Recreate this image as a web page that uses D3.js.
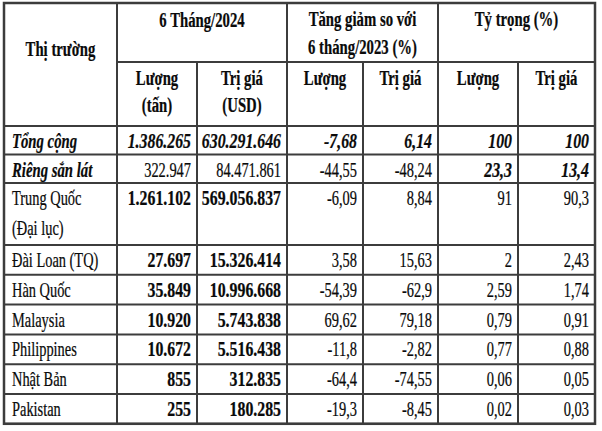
<!DOCTYPE html>
<html>
<head>
<meta charset="utf-8">
<script src="https://cdn.jsdelivr.net/npm/d3@7"></script>
<style>
  body { margin: 0; background: #fff; }
  text { font-family: "Liberation Serif", "Times New Roman", serif; fill: #0a0a0a; stroke: #0a0a0a; stroke-width: 0.25; }
</style>
</head>
<body>
<script>
// Xuat khau san: thi truong 6 thang/2024

const markets = ["Tổng cộng", "Riêng sắn lát", "Trung Quốc\n(Đại lục)", "Đài Loan (TQ)", "Hàn Quốc",
                 "Malaysia", "Philippines", "Nhật Bản", "Pakistan"];
const volume    = [1386265, 322947, 1261102, 27697, 35849, 10920, 10672, 855, 255];
const value     = [630291646, 84471861, 569056837, 15326414, 10996668, 5743838, 5516438, 312835, 180285];
const volChange = [-7.68, -44.55, -6.09, 3.58, -54.39, 69.62, -11.8, -64.4, -19.3];
const valChange = [6.14, -48.24, 8.84, 15.63, -62.9, 79.18, -2.82, -74.55, -8.45];
const volShare  = [100, 23.3, 91, 2, 2.59, 0.79, 0.77, 0.06, 0.02];
const valShare  = [100, 13.4, 90.3, 2.43, 1.74, 0.91, 0.88, 0.05, 0.03];

const groupHeaders = [["Thị trường"], ["6 Tháng/2024"], ["Tăng giảm so với", "6 tháng/2023 (%)"], ["Tỷ trọng (%)"]];
const subHeaders = [["Lượng", "(tấn)"], ["Trị giá", "(USD)"], ["Lượng"], ["Trị giá"], ["Lượng"], ["Trị giá"]];

const W = 602, H = 431;
const fs = 22;
// chu bi nen ngang nhu anh goc
const sxHead = 0.67, sxBold = 0.72, sxNormal = 0.655;

const vi = d3.formatLocale({decimal: ",", thousands: ".", grouping: [3], currency: ["", ""], minus: "-"});
const fmtInt = vi.format(",d");
const fmtPct = vi.format(",.2~f");

const cols = ["market", "vol", "val", "volC", "valC", "volS", "valS", "end"];
const x = d3.scaleOrdinal().domain(cols).range([4, 117, 197, 287, 363, 438, 518, 595]);

const rows = markets.map((m, i) => ({
    lines: m.split("\n"),
    cells: [fmtInt(volume[i]), fmtInt(value[i]), fmtPct(volChange[i]), fmtPct(valChange[i]), fmtPct(volShare[i]), fmtPct(valShare[i])],
    i: i
}));

// vi tri hang
const headTop = 3, headMid = 62, headBot = 126;
let yy = headBot;
rows.forEach((r, i) => {
    r.y0 = yy;
    yy += r.lines.length > 1 ? 62 : (i < 2 ? 28.5 : 29.8);
    r.y1 = yy;
});
const tableBottom = yy;

const svg = d3.select("body").append("svg")
    .attr("width", W)
    .attr("height", H);

// kieu chu tung o
const styleOf = (i, c) => {
    if (i === 0) return {w: "bold", s: "italic"};
    if (i === 1) {
        if (c === 0 || c === 5 || c === 6) return {w: "bold", s: "italic"};
        return {w: "normal", s: "normal"};
    }
    if (c === 1 || c === 2) return {w: "bold", s: "normal"};
    return {w: "normal", s: "normal"};
};

const putText = (px, py, str, anchor, weight, style, sx) => {
    svg.append("g")
        .attr("transform", `translate(${px},${py}) scale(${sx},1)`)
        .append("text")
        .attr("text-anchor", anchor)
        .attr("font-size", fs)
        .attr("font-weight", weight)
        .attr("font-style", style)
        .text(str);
};

// header
putText((x("market") + x("vol")) / 2, 56, groupHeaders[0][0], "middle", "bold", "normal", sxHead);
putText((x("vol") + x("volC")) / 2, 27, groupHeaders[1][0], "middle", "bold", "normal", sxHead);
groupHeaders[2].forEach((t, k) => putText((x("volC") + x("volS")) / 2, 26 + k * 28, t, "middle", "bold", "normal", sxHead));
putText((x("volS") + x("end")) / 2, 26, groupHeaders[3][0], "middle", "bold", "normal", sxHead);

subHeaders.forEach((lines, c) => {
    const left = x(cols[c + 1]), right = x(cols[c + 2]);
    lines.forEach((t, k) => putText((left + right) / 2, 85 + k * 27, t, "middle", "bold", "normal", sxHead));
});

// body
rows.forEach(r => {
    const st = styleOf(r.i, 0);
    const sxl = st.w === "bold" ? sxHead : sxNormal;
    r.lines.forEach((t, k) => putText(x("market") + 8, r.y0 + 22 + k * 30, t, "start", st.w, st.s, sxl));
    r.cells.forEach((t, c) => {
        const s = styleOf(r.i, c + 1);
        putText(x(cols[c + 2]) - 6, r.y0 + 22, t, "end", s.w, s.s, s.w === "bold" ? sxBold : sxNormal);
    });
});

// duong ke
const lineColor = "#3c3c3c";
const hline = (x1, x2, y) => svg.append("line")
    .attr("x1", x1).attr("x2", x2).attr("y1", y).attr("y2", y)
    .attr("stroke", lineColor).attr("stroke-width", 2);
const vline = (xp, y1, y2) => svg.append("line")
    .attr("x1", xp).attr("x2", xp).attr("y1", y1).attr("y2", y2)
    .attr("stroke", lineColor).attr("stroke-width", 2);

hline(x("vol"), x("end"), headMid);
hline(x("market"), x("end"), headBot);
rows.forEach(r => hline(x("market"), x("end"), r.y1));

["vol", "volC", "volS"].forEach(c => vline(x(c), headTop, tableBottom));
["val", "valC", "valS"].forEach(c => vline(x(c), headMid, tableBottom));

svg.append("rect")
    .attr("x", x("market"))
    .attr("y", headTop)
    .attr("width", x("end") - x("market"))
    .attr("height", tableBottom - headTop)
    .attr("fill", "none")
    .attr("stroke", lineColor)
    .attr("stroke-width", 2.5);
</script>
</body>
</html>
